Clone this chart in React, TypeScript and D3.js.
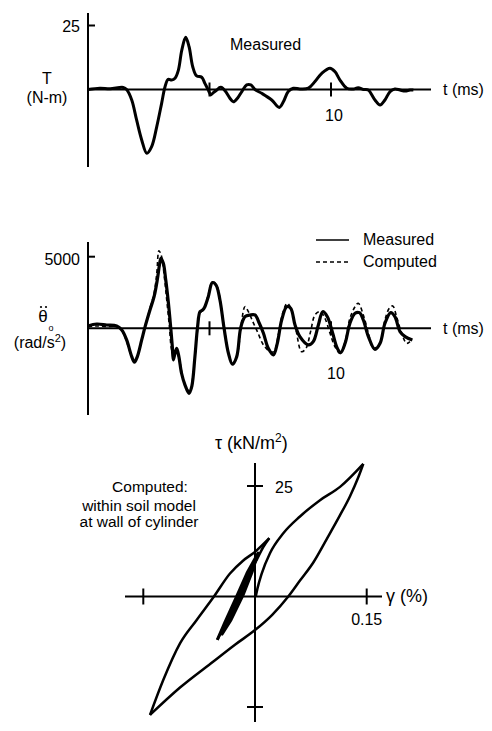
import React from "react";
import * as d3 from "d3";

// torque, measured (t in ms, T in N-m)
const torqueTime = [0, 0.49, 0.91, 1.45, 1.59, 1.8, 2.0, 2.21, 2.42, 2.62, 2.83, 3.03, 3.17, 3.3, 3.44, 3.58, 3.72, 3.86, 4.02, 4.16, 4.31, 4.47, 4.68, 4.81, 4.95, 5.05, 5.16, 5.3, 5.43, 5.5, 5.64, 5.84, 5.98, 6.15, 6.33, 6.53, 6.7, 6.87, 7.15, 7.56, 7.87, 8.04, 8.24, 8.45, 8.72, 9.07, 9.34, 9.62, 9.96, 10.16, 10.37, 10.65, 10.92, 11.12, 11.33, 11.53, 11.81, 12.02, 12.22, 12.43, 12.63, 12.84, 13.05, 13.25, 13.39];
const torqueValue = [0, 0.5, 0.3, 0.8, 0, -4.1, -11.9, -19.7, -24.9, -22.3, -14.5, -5.4, 1.1, 4.0, 3.7, 4.4, 7.6, 15.4, 20.4, 16.7, 8.9, 5.3, 4.8, 2.4, -0.2, -2.1, -1.2, -0.2, 0.8, 0.8, -0.5, -3.4, -4.8, -3.4, -0.8, 1.8, 1.8, 0, -1.5, -4.1, -7.0, -4.8, -0.8, 0.5, 0.2, 0.5, 3.1, 6.3, 8.3, 7.0, 3.7, 0.5, 0.2, 0.7, 0, -0.2, -4.1, -6.1, -4.1, -0.8, 0.2, -0.2, -0.6, -0.2, -0.2];

// angular acceleration (rad/s^2)
const accMeasTime = [0, 0.36, 0.77, 1.18, 1.39, 1.59, 1.8, 1.91, 2.03, 2.21, 2.35, 2.55, 2.72, 2.85, 2.94, 3.0, 3.1, 3.2, 3.31, 3.4, 3.47, 3.51, 3.58, 3.65, 3.74, 3.85, 3.99, 4.16, 4.27, 4.4, 4.51, 4.61, 4.72, 4.81, 4.95, 5.12, 5.27, 5.43, 5.6, 5.78, 5.94, 6.12, 6.28, 6.46, 6.67, 6.87, 7.05, 7.22, 7.42, 7.63, 7.79, 7.97, 8.18, 8.34, 8.52, 8.72, 9.07, 9.27, 9.48, 9.66, 9.85, 10.07, 10.26, 10.4, 10.58, 10.78, 10.99, 11.17, 11.33, 11.54, 11.81, 12.02, 12.22, 12.46, 12.63, 12.84, 13.05, 13.35];
const accMeasValue = [160, 300, 230, 160, -120, -810, -1980, -2370, -1980, -810, 120, 1280, 2210, 3370, 4420, 4890, 4540, 3370, 1750, 120, -1280, -2210, -1750, -1400, -1980, -3140, -3950, -4540, -4070, -1980, 120, 1160, 1280, 1510, 2210, 3190, 3020, 1980, 0, -1750, -2510, -1980, 0, 810, 930, 930, 350, -350, -1400, -1860, -1050, 580, 1510, 1400, 230, -580, -1160, -930, 230, 1160, 810, -350, -1400, -1700, -1050, 350, 1050, 1090, 580, -580, -1470, -1050, 350, 1090, 810, -230, -580, -810];

const accCompTime = [0, 0.36, 0.77, 1.18, 1.39, 1.59, 1.8, 1.91, 2.03, 2.21, 2.35, 2.55, 2.72, 2.83, 2.92, 3.03, 3.14, 3.24, 3.35, 3.44, 3.54, 3.65, 3.79, 3.92, 4.06, 4.2, 4.33, 4.47, 4.61, 4.75, 4.91, 5.12, 5.29, 5.46, 5.64, 5.82, 5.95, 6.15, 6.31, 6.46, 6.6, 6.78, 6.97, 7.22, 7.49, 7.65, 7.83, 8.01, 8.2, 8.38, 8.56, 8.79, 8.97, 9.16, 9.34, 9.55, 9.75, 9.96, 10.16, 10.37, 10.58, 10.78, 10.99, 11.12, 11.33, 11.54, 11.74, 12.02, 12.22, 12.4, 12.54, 12.7, 12.91, 13.11, 13.25];
const accCompValue = [120, 160, 120, 120, -160, -930, -2020, -2330, -1930, -810, 160, 1400, 2440, 3840, 5420, 5000, 3610, 1980, 120, -1510, -1980, -1630, -2440, -3610, -4190, -4420, -3140, -810, 1050, 1280, 2090, 3260, 3020, 1750, -350, -1980, -2440, -1750, 350, 1510, 1160, 470, -230, -1160, -1630, -1630, -470, 1050, 1750, 1280, -120, -1630, -1400, -230, 930, 1160, 700, -350, -1280, -1750, -930, 700, 1510, 1750, 930, -350, -1400, -1050, 580, 1400, 1560, 810, -350, -1050, -930];

// stress-strain loops (gamma in %, tau in kN/m^2), one array per branch
const virginGamma = [0.001, 0.0034, 0.009, 0.0201, 0.038, 0.0604, 0.0873, 0.1142, 0.1454];
const virginTau = [0, 1.9, 5.2, 9.8, 14.3, 18.1, 21.8, 24.8, 30.0];
const unloadGamma = [0.1454, 0.1383, 0.1276, 0.1142, 0.0963, 0.0783, 0.0604, 0.0447, 0.0228, 0, -0.0269, -0.0559, -0.1007, -0.141];
const unloadTau = [30.0, 26.8, 22.7, 18.4, 13.0, 7.7, 3.6, 0, -4.2, -7.6, -10.9, -14.7, -20.6, -26.8];
const reloadGamma = [-0.141, -0.1232, -0.1007, -0.0783, -0.0551, -0.0336, -0.0161, 0, 0.0192];
const reloadTau = [-26.8, -18.9, -10.6, -5.3, 0, 5.2, 8.1, 10.1, 13.2];
const unload2Gamma = [0.0192, 0.0111, 0.0023, -0.0094, -0.0228, -0.0363, -0.0506];
const unload2Tau = [13.2, 11.2, 8.3, 4.9, -0.1, -4.9, -9.8];
const smallGamma = [-0.0506, -0.0403, -0.0255, -0.0107, 0.004, -0.004, -0.0161, -0.0322, -0.0443, -0.0363, -0.0228, -0.0094, 0.0013, -0.0067, -0.0188, -0.0389, -0.0309, -0.0175, -0.0027, -0.0107, -0.0228, -0.0349, -0.0255, -0.0067, -0.0161, -0.0295, -0.0134, -0.0094, -0.0201];
const smallTau = [-9.8, -5.8, -0.3, 5.3, 9.8, 5.5, 0.3, -5.3, -8.5, -4.9, 0.1, 5.5, 8.9, 4.4, -0.3, -6.7, -3.1, 1.5, 7.4, 2.8, -1.7, -5.3, -1.5, 5.5, 0.3, -3.5, 2.8, 4.2, -0.3];

const timeTicks = [5, 10];
const gammaTicks = [-0.15, 0.15];
const tauTicks = [-25, 25];

const FONT = "'Liberation Sans', Arial, Helvetica, sans-serif";

function pathOf(xs: number[], ys: number[], sx: any, sy: any, curve: any) {
  const line = d3
    .line<number>()
    .x((_, i) => sx(xs[i]))
    .y((d) => sy(d))
    .curve(curve);
  return line(ys) || "";
}

export default function App() {
  const xTime = d3.scaleLinear().domain([0, 10]).range([88, 331]);
  const yTorque = d3.scaleLinear().domain([0, 25]).range([89.5, 25.5]);
  const yAcc = d3.scaleLinear().domain([0, 5000]).range([328.3, 256.7]);
  const xGamma = d3.scaleLinear().domain([-0.15, 0.15]).range([143.3, 366.7]);
  const yTau = d3.scaleLinear().domain([-25, 25]).range([707, 486]);

  const smooth = d3.curveCatmullRom.alpha(0.5);

  const torquePath = pathOf(torqueTime, torqueValue, xTime, yTorque, smooth);
  const measPath = pathOf(accMeasTime, accMeasValue, xTime, yAcc, smooth);
  const compPath = pathOf(accCompTime, accCompValue, xTime, yAcc, smooth);
  const loops = [
    pathOf(virginGamma, virginTau, xGamma, yTau, d3.curveMonotoneX),
    pathOf(unloadGamma, unloadTau, xGamma, yTau, d3.curveMonotoneX),
    pathOf(reloadGamma, reloadTau, xGamma, yTau, d3.curveMonotoneX),
    pathOf(unload2Gamma, unload2Tau, xGamma, yTau, d3.curveMonotoneX),
  ];
  const smallLoops = pathOf(smallGamma, smallTau, xGamma, yTau, d3.curveLinear);

  const x0 = xTime(0);
  const xEnd = 431;
  const gx0 = xGamma(0);
  const ty0 = yTau(0);

  return (
    <svg
      width={492}
      height={731}
      style={{ position: "absolute", left: 0, top: 0, background: "#fff" }}
      fontFamily={FONT}
    >
      <rect width={492} height={731} fill="#fff" />

      {/* top panel: torque */}
      <g stroke="#000" strokeWidth={2} fill="none">
        <line x1={x0} x2={x0} y1={13} y2={167} />
        <line x1={x0} x2={xEnd} y1={yTorque(0)} y2={yTorque(0)} />
        <line x1={x0} x2={x0 + 7} y1={yTorque(25)} y2={yTorque(25)} />
        {timeTicks.map((t) => (
          <line key={t} x1={xTime(t)} x2={xTime(t)} y1={yTorque(0) - 7} y2={yTorque(0) + 7} />
        ))}
        <path d={torquePath} strokeWidth={3} strokeLinejoin="round" />
      </g>
      <text x={80} y={31.5} fontSize={16} textAnchor="end">25</text>
      <text x={47} y={84} fontSize={16} textAnchor="middle">T</text>
      <text x={47} y={103} fontSize={16} textAnchor="middle">(N-m)</text>
      <text x={230} y={50} fontSize={16}>Measured</text>
      <text x={443} y={95} fontSize={16}>t (ms)</text>
      <text x={xTime(10) + 3} y={120.5} fontSize={16} textAnchor="middle">10</text>

      {/* middle panel: acceleration */}
      <g stroke="#000" strokeWidth={2} fill="none">
        <line x1={x0} x2={x0} y1={242} y2={415} />
        <line x1={x0} x2={xEnd} y1={yAcc(0)} y2={yAcc(0)} />
        <line x1={x0} x2={x0 + 7} y1={yAcc(5000)} y2={yAcc(5000)} />
        {timeTicks.map((t) => (
          <line key={t} x1={xTime(t)} x2={xTime(t)} y1={yAcc(0) - 7} y2={yAcc(0) + 7} />
        ))}
        <path d={compPath} strokeWidth={1.6} strokeDasharray="4,3" />
        <path d={measPath} strokeWidth={3.2} strokeLinejoin="round" />
        <line x1={316} x2={349} y1={240} y2={240} strokeWidth={1.6} />
        <line x1={316} x2={349} y1={262} y2={262} strokeWidth={1.6} strokeDasharray="4,3" />
      </g>
      <text x={363} y={245} fontSize={16}>Measured</text>
      <text x={363} y={267} fontSize={16}>Computed</text>
      <text x={80} y={265} fontSize={16} textAnchor="end">5000</text>
      <circle cx={41} cy={307} r={1.1} fill="#000" />
      <circle cx={46} cy={307} r={1.1} fill="#000" />
      <text x={43} y={322} fontSize={17} textAnchor="middle">θ</text>
      <text x={48.5} y={331} fontSize={9}>o</text>
      <text x={40} y={348} fontSize={16} textAnchor="middle">
        (rad/s<tspan dy={-6} fontSize={11}>2</tspan><tspan dy={6}>)</tspan>
      </text>
      <text x={443} y={334} fontSize={16}>t (ms)</text>
      <text x={xTime(10) + 5} y={379} fontSize={16} textAnchor="middle">10</text>

      {/* bottom panel: stress-strain */}
      <g stroke="#000" strokeWidth={2} fill="none">
        <line x1={gx0} x2={gx0} y1={463} y2={722} />
        <line x1={125} x2={382} y1={ty0} y2={ty0} />
        {gammaTicks.map((g) => (
          <line key={g} x1={xGamma(g)} x2={xGamma(g)} y1={ty0 - 8} y2={ty0 + 8} />
        ))}
        {tauTicks.map((t) => (
          <line key={t} x1={gx0 - 8} x2={gx0 + 8} y1={yTau(t)} y2={yTau(t)} />
        ))}
        {loops.map((d, i) => (
          <path key={i} d={d} strokeWidth={2.5} strokeLinejoin="round" />
        ))}
        <path d={smallLoops} strokeWidth={3} strokeLinejoin="round" />
      </g>
      <text x={215} y={449} fontSize={18}>
        τ (kN/m<tspan dy={-7} fontSize={12}>2</tspan><tspan dy={7}>)</tspan>
      </text>
      <text x={275} y={493} fontSize={16}>25</text>
      <text x={xGamma(0.15)} y={625} fontSize={16} textAnchor="middle">0.15</text>
      <text x={386} y={602} fontSize={18}>γ (%)</text>
      <text x={150} y={492} fontSize={15.5} textAnchor="middle">Computed:</text>
      <text x={139} y={511} fontSize={15.5} textAnchor="middle">within soil model</text>
      <text x={139} y={527} fontSize={15.5} textAnchor="middle">at wall of cylinder</text>
    </svg>
  );
}
